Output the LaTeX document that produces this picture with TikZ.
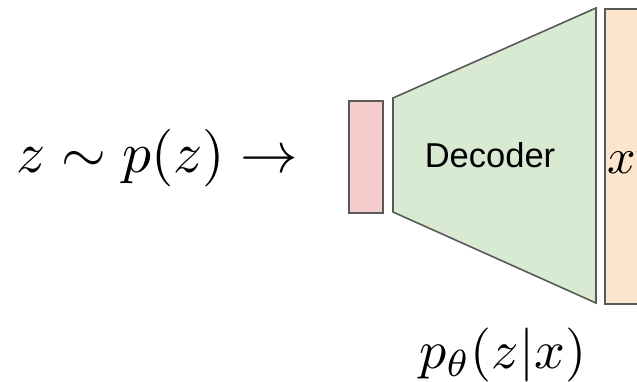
\documentclass[tikz,border=0pt]{standalone}
\usepackage{fontspec}
\newfontfamily\arialfont{Liberation Sans}
\definecolor{pinkfill}{HTML}{F4CCCC}
\definecolor{greenfill}{HTML}{D9EAD3}
\definecolor{orangefill}{HTML}{FCE5CD}
\definecolor{edgegray}{HTML}{595959}
\begin{document}
\begin{tikzpicture}[x=1pt,y=-1pt,
  box/.style={draw=edgegray, line width=1.6pt},
  mathlabel/.style={anchor=base west, inner sep=0pt}]
\clip (0,0) rectangle (637,381);
\fill[white] (0,0) rectangle (637,381);
% latent code
\node[box, fill=pinkfill, minimum width=34pt, minimum height=112pt, inner sep=0pt, anchor=north west] (zbox) at (348,100) {};
% decoder trapezoid
\coordinate (d1) at (393,98);
\coordinate (d2) at (596,8);
\coordinate (d3) at (596,303);
\coordinate (d4) at (393,212);
\draw[box, fill=greenfill, line join=miter] (d1) -- (d2) -- (d3) -- (d4) -- cycle;
\node[font=\arialfont\fontsize{34.5}{40}\selectfont, anchor=base, inner sep=0pt] (dec) at (490,167) {Decoder};
% output
\node[box, fill=orangefill, minimum width=60pt, minimum height=295pt, inner sep=0pt, anchor=north west] (xbox) at (604,8) {};
\node[mathlabel, scale=5.0] (xlab) at (606,173) {$x'$};
% labels
\node[mathlabel, scale=5.75] (prior) at (15,172) {$z\sim p(z)\rightarrow$};
\node[mathlabel, scale=5.4] (post) at (418,368) {$p_\theta(z|x)$};
\end{tikzpicture}
\end{document}
